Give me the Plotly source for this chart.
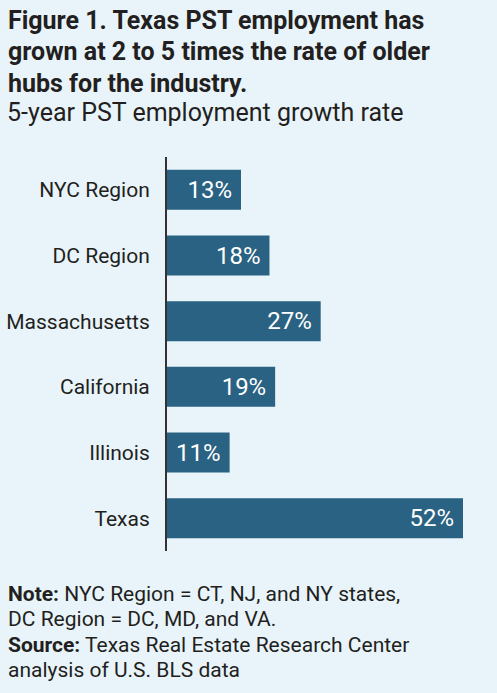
import plotly.graph_objects as go

# data
regions = ["NYC Region", "DC Region", "Massachusetts", "California", "Illinois", "Texas"]
growth = [13, 18, 27, 19, 11, 52]

title_lines = [
    "Figure 1. Texas PST employment has",
    "grown at 2 to 5 times the rate of older",
    "hubs for the industry.",
]
subtitle = "5-year PST employment growth rate"
note_lines = [
    "<b>Note:</b> NYC Region = CT, NJ, and NY states,",
    "DC Region = DC, MD, and VA.",
    "<b>Source:</b> Texas Real Estate Research Center",
    "analysis of U.S. BLS data",
]

W, H = 497, 693
L, R, T, B = 167, 34, 157, 142
BG = "#E8F4FA"
BAR = "#296282"
INK = "#231F20"
FONT = "Roboto"


def px_x(x):
    return (x - L) / (W - L - R)


def px_y(y):
    return (H - B - y) / (H - T - B)


fig = go.Figure(
    go.Bar(
        x=growth,
        y=regions,
        orientation="h",
        marker=dict(color=BAR, line=dict(width=0)),
        text=[f"{v}%\u00a0" for v in growth],
        textposition="inside",
        insidetextanchor="end",
        textfont=dict(family=FONT, size=24, color="white"),
        cliponaxis=False,
        hoverinfo="skip",
    )
)

annotations = []
for i, line in enumerate(title_lines):
    annotations.append(
        dict(
            text=f"<b>{line}</b>",
            x=px_x(6), y=px_y(20 + i * 31.5),
            xref="paper", yref="paper", xanchor="left", yanchor="middle",
            showarrow=False, font=dict(family=FONT, size=25, color=INK),
        )
    )
annotations.append(
    dict(
        text=subtitle,
        x=px_x(5), y=px_y(112),
        xref="paper", yref="paper", xanchor="left", yanchor="middle",
        showarrow=False, font=dict(family=FONT, size=25, color=INK),
    )
)
for i, line in enumerate(note_lines):
    annotations.append(
        dict(
            text=line,
            x=px_x(6), y=px_y(594 + i * 25.3),
            xref="paper", yref="paper", xanchor="left", yanchor="middle",
            showarrow=False, font=dict(family=FONT, size=21, color=INK),
        )
    )

fig.update_layout(
    width=W,
    height=H,
    margin=dict(l=L, r=R, t=T, b=B, pad=0),
    paper_bgcolor=BG,
    plot_bgcolor=BG,
    showlegend=False,
    bargap=0.39,
    font=dict(family=FONT, color=INK),
    xaxis=dict(range=[0, 52], visible=False, fixedrange=True, automargin=False),
    yaxis=dict(
        autorange="reversed",
        automargin=False,
        showline=True,
        linecolor="#333333",
        linewidth=2,
        ticks="",
        ticklabelstandoff=11,
        tickfont=dict(family=FONT, size=21, color=INK),
        showgrid=False,
        fixedrange=True,
    ),
    annotations=annotations,
)

fig.write_html(
    "out.html",
    config={"displayModeBar": False},
    post_script="document.body.style.margin='0';document.body.style.overflow='hidden';",
)
